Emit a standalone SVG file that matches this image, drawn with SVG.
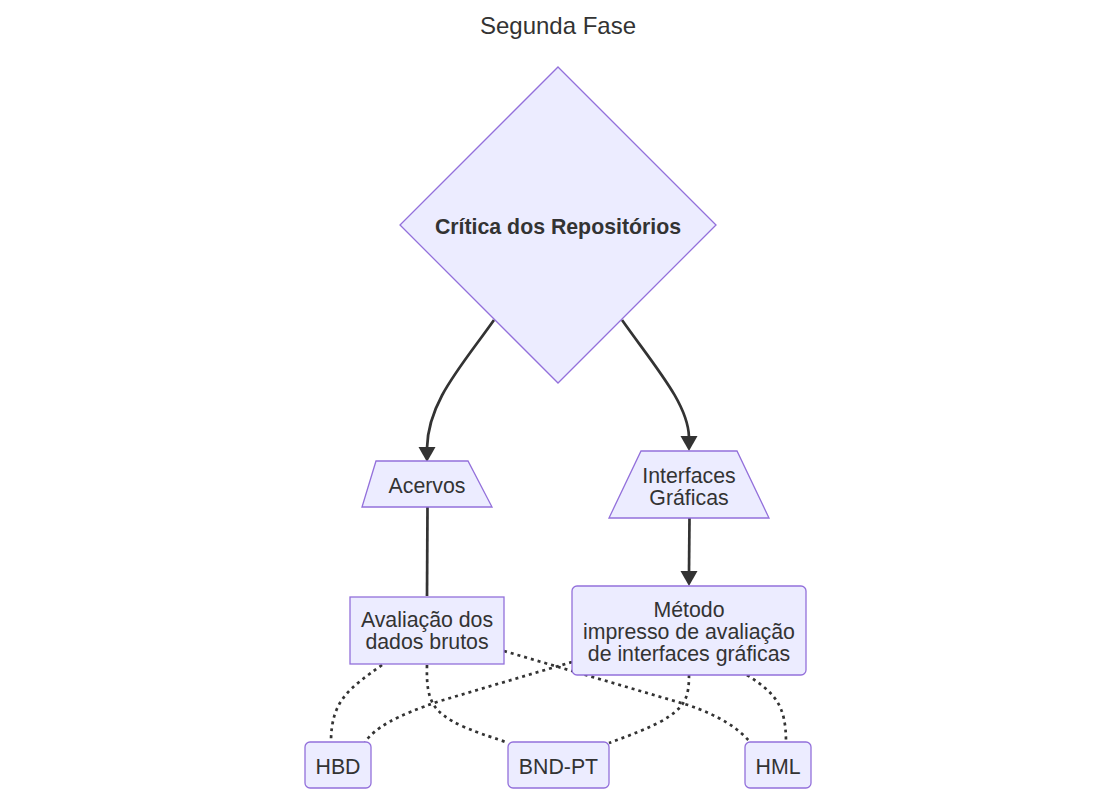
<svg xmlns="http://www.w3.org/2000/svg" width="1116" height="799" viewBox="0 0 1116 799">
<style>
.n{fill:#ECECFF;stroke:#9370DB;stroke-width:1.3}
.t{font-family:"Liberation Sans",Arial,sans-serif;font-size:21.3px;fill:#333;text-anchor:middle}
.b{font-weight:bold}
.e{fill:none;stroke:#333;stroke-width:2.7}
.d{fill:none;stroke:#333;stroke-width:2.7;stroke-dasharray:3 4}
.a{fill:#333}
</style>
<rect width="1116" height="799" fill="#fff"/>
<text class="t" x="558" y="34" style="font-size:24px">Segunda Fase</text>
<g id="connectors">
<path class="e" d="M494,320 C460,368 428,402 427,448"/>
<polygon class="a" points="418.5,447 435.5,447 427,462"/>
<path class="e" d="M622,320 C656,368 688,404 689,437"/>
<polygon class="a" points="680.5,436 697.5,436 689,451"/>
<path class="e" d="M427.5,507 L427,596"/>
<path class="e" d="M689.5,518 L689,572"/>
<polygon class="a" points="680.5,571 697.5,571 689,586"/>
<path class="d" d="M382,665 C350,688 331,700 331,742"/>
<path class="d" d="M427,665 C426,700 432,712 462,726 C482,735 496,738 508,743"/>
<path class="d" d="M504,651 L688,705 C720,716 738,728 750,742"/>
<path class="d" d="M572,662 L440,701 C395,716 375,728 365,742"/>
<path class="d" d="M689,675 C689,698 685,708 660,722 C640,732 625,737 609,743"/>
<path class="d" d="M747,675 C775,693 786,705 786,742"/>
</g>
<g id="critica">
<polygon class="n" points="558,67 716,225 558,383 400,225"/>
<text class="t b" x="558" y="234">Crítica dos Repositórios</text>
</g>
<g id="acervos">
<polygon class="n" points="376,461 468,461 492,507 362,507"/>
<text class="t" x="427" y="493">Acervos</text>
</g>
<g id="interfaces">
<polygon class="n" points="641,451 737,451 769,518 609,518"/>
<text class="t" x="689" y="483">Interfaces</text>
<text class="t" x="689" y="505">Gráficas</text>
</g>
<g id="avaliacao">
<rect class="n" x="350" y="597" width="154" height="67"/>
<text class="t" x="427" y="627">Avaliação dos</text>
<text class="t" x="427" y="649">dados brutos</text>
</g>
<g id="metodo">
<rect class="n" x="572" y="586" width="234" height="89" rx="5"/>
<text class="t" x="689" y="617">Método</text>
<text class="t" x="689" y="639">impresso de avaliação</text>
<text class="t" x="689" y="661">de interfaces gráficas</text>
</g>
<g id="hbd">
<rect class="n" x="305" y="742" width="66" height="46" rx="5"/>
<text class="t" x="338" y="774">HBD</text>
</g>
<g id="bndpt">
<rect class="n" x="508" y="742" width="101" height="46" rx="5"/>
<text class="t" x="558.5" y="774">BND-PT</text>
</g>
<g id="hml">
<rect class="n" x="745" y="742" width="66" height="46" rx="5"/>
<text class="t" x="778" y="774">HML</text>
</g>
</svg>
